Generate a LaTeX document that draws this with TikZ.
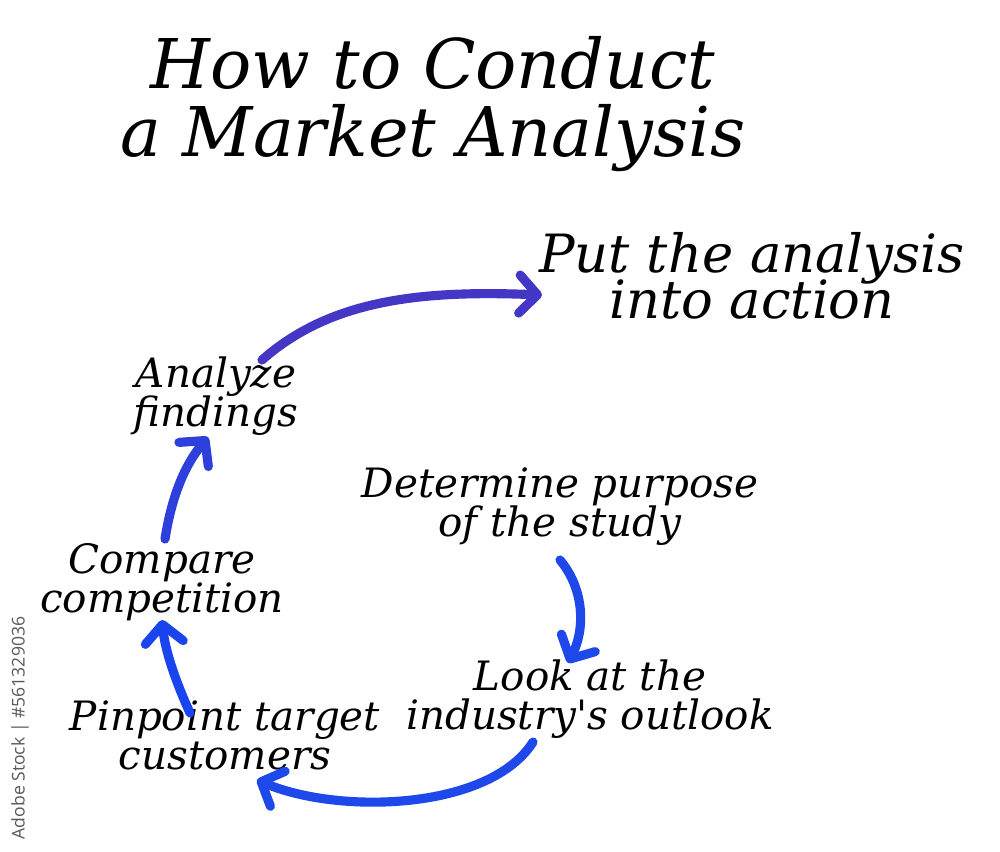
\documentclass[tikz,border=0pt]{standalone}
\usepackage{fontspec}
\setmainfont{DejaVu Serif}
\newfontfamily\wmfont{Open Sans}
\usetikzlibrary{arrows.meta}
\newcommand\mytightlines{\lineskiplimit=-100pt\relax}
\definecolor{arrA}{HTML}{4537C6}
\definecolor{arrB}{HTML}{2E40DC}
\definecolor{arrC}{HTML}{1A45EE}
\definecolor{arrD}{HTML}{1F48EA}
\tikzset{
  label/.style={align=center, font=\itshape\fontsize{11.5pt}{3.9mm}\selectfont\mytightlines, inner sep=0pt, text=black},
  biglabel/.style={align=center, font=\itshape\fontsize{15pt}{4.6mm}\selectfont\mytightlines, inner sep=0pt, text=black},
  title/.style={align=center, font=\itshape\fontsize{19.5pt}{6.8mm}\selectfont\mytightlines, inner sep=0pt, text=black},
  flow/.style={line width=2.6pt, line cap=round, -{Straight Barb[round, length=1.8mm, width=3.8mm]}},
}
\begin{document}
\begin{tikzpicture}[x=0.01cm,y=-0.01cm]
\useasboundingbox[fill=white] (0,0) rectangle (1000,852);
\node[title] (ttl) at (433,104) {How to Conduct\\a Market Analysis};
\node[biglabel] (put) at (752,276) {Put the analysis\\into action};
\node[label] (ana) at (216,396) {Analyze\\findings};
\node[label] (det) at (560,507) {Determine purpose\\of the study};
\node[label] (cmp) at (162,582) {Compare\\competition};
\node[label] (look) at (590,699) {Look at the\\industry\textquotesingle s outlook};
\node[label] (pin) at (225,735) {Pinpoint target\\customers};
\node[rotate=90, text=black!65, font=\wmfont\fontsize{5pt}{6pt}\selectfont, inner sep=0pt] (wm) at (20,728) {Adobe Stock | \#561329036};
\coordinate (a1s) at (262,360); \coordinate (a1e) at (542,295);
\coordinate (a2s) at (560,560); \coordinate (a2e) at (568,663);
\coordinate (a3s) at (533,742); \coordinate (a3e) at (257,780);
\coordinate (a4s) at (190,713); \coordinate (a4e) at (162,620);
\coordinate (a5s) at (165,539); \coordinate (a5e) at (208,437);
\draw[flow, draw=arrA] (a1s) .. controls (330,300) and (420,290) .. (a1e);
\draw[flow, draw=arrD] (a2s) .. controls (585,590) and (585,630) .. (a2e);
\draw[flow, draw=arrD] (a3s) .. controls (490,810) and (340,815) .. (a3e);
\draw[flow, draw=arrC] (a4s) .. controls (175,680) and (165,650) .. (a4e);
\draw[flow, draw=arrB] (a5s) .. controls (172,495) and (185,465) .. (a5e);
\end{tikzpicture}
\end{document}
